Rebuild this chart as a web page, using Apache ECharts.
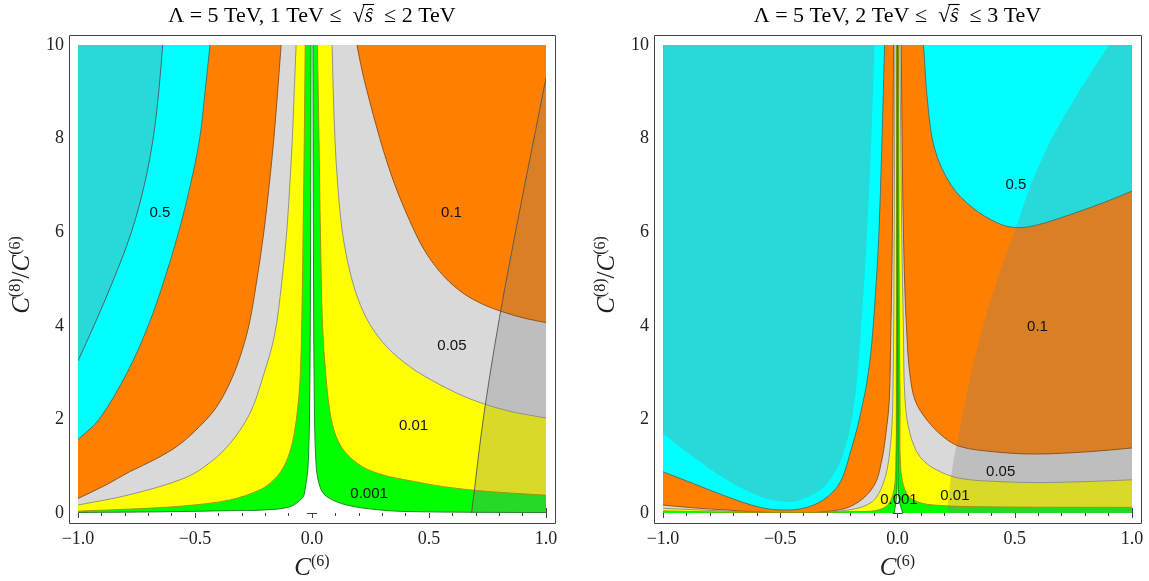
<!DOCTYPE html>
<html>
<head>
<meta charset="utf-8">
<script src="https://cdn.jsdelivr.net/npm/echarts@6.0.0/dist/echarts.min.js"></script>
<style>html,body{margin:0;padding:0;background:#fff;}#chart{width:1149px;height:581px;}</style>
</head>
<body>
<div id="chart"></div>
<script>
// ================= DATA =================
// Left panel: 1 TeV <= sqrt(s) <= 2 TeV   (points are [C6, C8/C6])
const L_overlayA = [[-0.638,10],[-0.655,9],[-0.679,8],[-0.717,7],[-0.772,6],[-0.847,5],[-0.932,4],[-1,3.25]];
const L_c05  = [[-0.436,10],[-0.457,9],[-0.48,8],[-0.52,7],[-0.57,6],[-0.63,5],[-0.70,4],[-0.79,3],[-0.91,2],[-1,1.57]];
const L_c01a = [[-0.132,10],[-0.147,9],[-0.163,8],[-0.183,7],[-0.206,6],[-0.235,5],[-0.27,4],[-0.31,3.3],[-0.353,2.76],[-0.41,2.25],[-0.48,1.85],[-0.57,1.45],[-0.669,1.15],[-0.78,0.88],[-0.88,0.6],[-1,0.31]];
const L_c01b = [[0.192,10],[0.212,9.5],[0.236,9],[0.29,8],[0.355,7],[0.44,6],[0.495,5.5],[0.565,5.05],[0.645,4.7],[0.73,4.46],[0.82,4.29],[0.91,4.16],[1,4.07]];
const L_c005a = [[-0.068,10],[-0.076,9],[-0.084,8],[-0.095,7],[-0.108,6],[-0.13,4.9],[-0.16,3.8],[-0.21,2.9],[-0.265,2.13],[-0.345,1.52],[-0.43,1.1],[-0.543,0.75],[-0.78,0.39],[-1,0.17]];
const L_c005b = [[0.086,10],[0.091,9],[0.098,8],[0.11,7],[0.13,6],[0.16,5.2],[0.195,4.6],[0.245,4.05],[0.32,3.55],[0.42,3.12],[0.54,2.76],[0.68,2.43],[0.84,2.18],[1,2.03]];
const L_c001a = [[-0.029,10],[-0.033,8],[-0.038,6],[-0.044,4],[-0.051,2.84],[-0.062,2.2],[-0.076,1.7],[-0.095,1.3],[-0.125,0.95],[-0.165,0.7],[-0.22,0.5],[-0.35,0.28],[-0.55,0.15],[-0.75,0.09],[-1,0.04]];
const L_c001b = [[0.023,10],[0.03,8],[0.036,6],[0.045,4],[0.06,2.9],[0.077,2.15],[0.102,1.65],[0.145,1.28],[0.215,0.99],[0.305,0.81],[0.419,0.69],[0.564,0.56],[0.75,0.46],[1,0.38]];
const L_spikeA = [[-0.004,10],[-0.006,6],[-0.009,2.84],[-0.016,1.06],[-0.03,0.49],[-0.04,0.33],[-0.094,0.135],[-0.208,0.064],[-0.35,0.05],[-0.65,0.025],[-1,0.01]];
const L_spikeB = [[0.004,10],[0.006,6],[0.009,2.84],[0.017,1.06],[0.034,0.56],[0.063,0.35],[0.148,0.17],[0.291,0.064],[0.419,0.03],[0.7,0.015],[1,0.01]];
const L_overlayB = [[1,9.3],[0.825,4.83],[0.738,2.22],[0.682,0]];
const L_labels = [['0.5',-0.65,6.41],['0.1',0.596,6.41],['0.05',0.598,3.57],['0.01',0.434,1.86],['0.001',0.244,0.41]];

// Right panel: 2 TeV <= sqrt(s) <= 3 TeV
const R_overlayA = [[-0.098,10],[-0.108,8.5],[-0.12,7],[-0.135,5.5],[-0.148,4.5],[-0.163,3.4],[-0.18,2.5],[-0.205,1.75],[-0.24,1.15],[-0.29,0.7],[-0.33,0.49],[-0.416,0.28],[-0.487,0.24],[-0.586,0.35],[-0.728,0.705],[-0.871,1.2],[-1,1.7]];
const R_c05a = [[-0.055,10],[-0.066,8],[-0.079,6],[-0.092,4.83],[-0.11,3.6],[-0.13,2.8],[-0.15,2.3],[-0.17,1.85],[-0.195,1.4],[-0.245,0.65],[-0.316,0.28],[-0.402,0.1],[-0.487,0.064],[-0.586,0.12],[-0.728,0.35],[-0.871,0.63],[-1,0.88]];
const R_c05b = [[0.111,10],[0.127,8.85],[0.158,7.79],[0.228,7.01],[0.321,6.52],[0.425,6.2],[0.5,6.1],[0.584,6.14],[0.739,6.38],[0.894,6.66],[1,6.88]];
const R_c01a = [[-0.017,10],[-0.022,6],[-0.028,4],[-0.035,2.41],[-0.046,1.84],[-0.067,1.13],[-0.103,0.56],[-0.188,0.17],[-0.302,0.03],[-0.444,0.006],[-0.6,0.02],[-0.728,0.064],[-0.87,0.11],[-1,0.17]];
const R_c01b = [[0.016,10],[0.022,7],[0.03,5],[0.04,3.8],[0.052,3.0],[0.075,2.41],[0.125,1.99],[0.195,1.63],[0.267,1.42],[0.409,1.31],[0.584,1.26],[0.817,1.31],[1,1.39]];
const R_c005a = [[-0.011,10],[-0.014,6],[-0.02,2.41],[-0.032,1.35],[-0.061,0.63],[-0.117,0.21],[-0.25,0.04],[-0.45,0.005],[-0.7,0.035],[-1,0.1]];
const R_c005b = [[0.01,10],[0.018,6],[0.025,4],[0.032,2.41],[0.053,1.7],[0.096,1.2],[0.167,0.92],[0.267,0.74],[0.437,0.67],[0.6,0.65],[0.8,0.67],[1,0.71]];
const R_c001a = [[-0.004,10],[-0.005,2],[-0.006,1.35],[-0.018,0.42],[-0.061,0.1],[-0.2,0.03],[-0.5,0.01],[-0.8,0.025],[-1,0.045]];
const R_c001b = [[0.004,10],[0.008,4],[0.011,2.41],[0.013,0.99],[0.032,0.49],[0.067,0.28],[0.153,0.17],[0.437,0.13],[1,0.12]];
const R_spikeA = [[-0.001,10],[-0.002,0.6],[-0.006,0.25],[-0.011,0.1],[-0.014,0]];
const R_spikeB = [[0.001,10],[0.003,0.6],[0.008,0.25],[0.016,0.1],[0.022,0]];
const R_overlayB = [[0.902,10],[0.773,9],[0.658,8],[0.568,7],[0.505,6.1],[0.415,4.83],[0.33,3.34],[0.29,2.41],[0.258,1.63],[0.228,0.78],[0.211,0]];
const R_labels = [['0.5',0.505,7.01],['0.1',0.597,3.98],['0.05',0.44,0.88],['0.01',0.245,0.36],['0.001',0.006,0.29]];

// axis ranges / titles
const xRange = [-1, 1];
const yRange = [0, 10];
const titleParts = [
  ['\u039B = 5 TeV, 1 TeV \u2264', '\u2264 2 TeV'],
  ['\u039B = 5 TeV, 2 TeV \u2264', '\u2264 3 TeV']
];

// ================= STYLE =================
const COL = {cyan:'#00FFFF', orange:'#FF8000', gray:'#D9D9D9', yellow:'#FFFF00', green:'#00FF00', white:'#FFFFFF', shade:'rgba(128,128,128,0.3)'};
const LN = {c05:'#3F6F6F', c01:'#8C4A12', c005:'#8A8A8A', c001:'#A08C00', spike:'#1B7A1B', edge:'#555555'};
const serif = '"Liberation Serif","Times New Roman",serif';
const sans = '"Liberation Sans",Arial,sans-serif';
const rev = a => a.slice().reverse();
const X0 = xRange[0], X1 = xRange[1], Y0 = yRange[0], Y1 = yRange[1];

const leftItems = [
  {kind:'fill', fill:COL.cyan,   parts:[{l:[[X0,Y0],[X1,Y0],[X1,Y1],[X0,Y1]]}]},
  {kind:'fill', fill:COL.orange, parts:[{c:L_c05},{l:[[X0,Y0],[X1,Y0],[X1,Y1]]}]},
  {kind:'fill', fill:COL.gray,   parts:[{c:L_c01a},{l:[[X0,Y0],[X1,Y0]]},{c:rev(L_c01b)}]},
  {kind:'fill', fill:COL.yellow, parts:[{c:L_c005a},{l:[[X0,Y0],[X1,Y0]]},{c:rev(L_c005b)}]},
  {kind:'fill', fill:COL.green,  parts:[{c:L_c001a},{l:[[X0,Y0],[X1,Y0]]},{c:rev(L_c001b)}]},
  {kind:'fill', fill:COL.white,  parts:[{c:L_spikeA},{l:[[X0,Y0],[X1,Y0]]},{c:rev(L_spikeB)}]},
  {kind:'fill', fill:COL.shade,  parts:[{l:[[X0,Y1]]},{c:L_overlayA}]},
  {kind:'fill', fill:COL.shade,  parts:[{c:L_overlayB},{l:[[X1,Y0]]}]},
  {kind:'line', stroke:LN.edge, pts:L_overlayA},
  {kind:'line', stroke:LN.c05, pts:L_c05},
  {kind:'line', stroke:LN.c01, pts:L_c01a},
  {kind:'line', stroke:LN.c01, pts:L_c01b},
  {kind:'line', stroke:LN.c005, pts:L_c005a},
  {kind:'line', stroke:LN.c005, pts:L_c005b},
  {kind:'line', stroke:LN.c001, pts:L_c001a},
  {kind:'line', stroke:LN.c001, pts:L_c001b},
  {kind:'line', stroke:LN.spike, pts:L_spikeA},
  {kind:'line', stroke:LN.spike, pts:L_spikeB},
  {kind:'line', stroke:LN.edge, pts:L_overlayB},
  ...L_labels.map(t => ({kind:'text', text:t[0], at:[t[1], t[2]]}))
];

const rightItems = [
  {kind:'fill', fill:COL.cyan,   parts:[{l:[[X0,Y0],[X1,Y0],[X1,Y1],[X0,Y1]]}]},
  {kind:'fill', fill:COL.orange, parts:[{c:R_c05a},{l:[[X0,Y0],[X1,Y0]]},{c:rev(R_c05b)}]},
  {kind:'fill', fill:COL.gray,   parts:[{c:R_c01a},{l:[[X0,Y0],[X1,Y0]]},{c:rev(R_c01b)}]},
  {kind:'fill', fill:COL.yellow, parts:[{c:R_c005a},{l:[[X0,Y0],[X1,Y0]]},{c:rev(R_c005b)}]},
  {kind:'fill', fill:COL.green,  parts:[{c:R_c001a},{l:[[X0,Y0],[X1,Y0]]},{c:rev(R_c001b)}]},
  {kind:'fill', fill:COL.white,  parts:[{c:R_spikeA},{c:rev(R_spikeB)}]},
  {kind:'fill', fill:COL.shade,  parts:[{l:[[X0,Y1]]},{c:R_overlayA}]},
  {kind:'fill', fill:COL.shade,  parts:[{c:R_overlayB},{l:[[X1,Y0],[X1,Y1]]}]},
  {kind:'line', stroke:LN.c05, pts:R_c05a},
  {kind:'line', stroke:LN.c05, pts:R_c05b},
  {kind:'line', stroke:LN.c01, pts:R_c01a},
  {kind:'line', stroke:LN.c01, pts:R_c01b},
  {kind:'line', stroke:LN.c005, pts:R_c005a},
  {kind:'line', stroke:LN.c005, pts:R_c005b},
  {kind:'line', stroke:LN.c001, pts:R_c001a},
  {kind:'line', stroke:LN.c001, pts:R_c001b},
  {kind:'line', stroke:LN.spike, pts:R_spikeA},
  {kind:'line', stroke:LN.spike, pts:R_spikeB},
  ...R_labels.map(t => ({kind:'text', text:t[0], at:[t[1], t[2]]}))
];

// ================= DRAWING HELPERS =================
const fx = v => v.toFixed(2);
function curveD(P, first) {
  const n = P.length, S = 0.34;
  let d = (first ? 'M' : ' L') + fx(P[0][0]) + ' ' + fx(P[0][1]);
  const tan = i => {
    const a = P[Math.max(i - 1, 0)], b = P[Math.min(i + 1, n - 1)];
    const dx = b[0] - a[0], dy = b[1] - a[1], l = Math.hypot(dx, dy) || 1;
    return [dx / l, dy / l];
  };
  for (let i = 0; i < n - 1; i++) {
    const a = P[i], b = P[i + 1], len = Math.hypot(b[0] - a[0], b[1] - a[1]);
    const ta = tan(i), tb = tan(i + 1);
    d += ' C' + fx(a[0] + ta[0] * len * S) + ' ' + fx(a[1] + ta[1] * len * S) + ' ' +
         fx(b[0] - tb[0] * len * S) + ' ' + fx(b[1] - tb[1] * len * S) + ' ' + fx(b[0]) + ' ' + fx(b[1]);
  }
  return d;
}
function makeRender(items) {
  return function (params, api) {
    const it = items[params.dataIndex];
    const P = pts => pts.map(p => api.coord(p));
    if (it.kind === 'fill') {
      let d = '', first = true;
      it.parts.forEach(part => {
        if (part.c) { d += curveD(P(part.c), first); first = false; }
        else { P(part.l).forEach(q => { d += (first ? 'M' : ' L') + fx(q[0]) + ' ' + fx(q[1]); first = false; }); }
      });
      d += ' Z';
      return {type:'path', shape:{pathData:d}, style:{fill:it.fill, stroke:'none'}, silent:true};
    }
    if (it.kind === 'line') {
      return {type:'path', shape:{pathData:curveD(P(it.pts), true)}, style:{fill:'none', stroke:it.stroke, lineWidth:0.9}, silent:true};
    }
    const q = api.coord(it.at);
    return {type:'text', x:q[0], y:q[1], silent:true,
      style:{text:it.text, font:'15px ' + sans, fill:'#111', align:'center', verticalAlign:'middle', textAlign:'center', textVerticalAlign:'middle'}};
  };
}

// ================= LAYOUT =================
const GRIDS = [
  {left:78, top:45, width:468, height:468},
  {left:663, top:45, width:469, height:468}
];
const PADX = 9, PADY = 10;

function xAxis(g, pos, showLabel) {
  return {
    type:'value', gridIndex:g, position:pos, offset:PADY, min:X0, max:X1, interval:0.5,
    axisLine:{show:false}, splitLine:{show:false}, minorSplitLine:{show:false},
    axisTick:{show:true, inside:true, length:5, lineStyle:{color:'#444', width:1}},
    minorTick:{show:true, splitNumber:5, length:3, lineStyle:{color:'#444', width:1}},
    axisLabel:{show:showLabel, margin:7, fontFamily:serif, fontSize:18, color:'#222',
      formatter: v => (v < 0 ? '\u2212' : '') + Math.abs(v).toFixed(1)},
    axisPointer:{show:false}
  };
}
function yAxis(g, pos, showLabel) {
  return {
    type:'value', gridIndex:g, position:pos, offset:PADX, min:Y0, max:Y1, interval:2,
    axisLine:{show:false}, splitLine:{show:false}, minorSplitLine:{show:false},
    axisTick:{show:true, inside:true, length:5, lineStyle:{color:'#444', width:1}},
    minorTick:{show:true, splitNumber:4, length:3, lineStyle:{color:'#444', width:1}},
    axisLabel:{show:showLabel, margin:5, fontFamily:serif, fontSize:18, color:'#222',
      formatter: v => String(v)},
    axisPointer:{show:false}
  };
}

// text measuring for the titles
const mctx = document.createElement('canvas').getContext('2d');
function tw(t, size, italic) { mctx.font = (italic ? 'italic ' : '') + size + 'px ' + serif; return mctx.measureText(t).width; }

function titleEls(cx, cy, pre, post) {
  const fs = 22;
  const parts = [
    {t: pre + '  ', it:false},
    {t: '\u221A', it:false},
    {t: '\u015D', it:true},
    {t: '  ' + post, it:false}
  ];
  parts.forEach(p => p.w = tw(p.t, fs, p.it));
  const W = parts.reduce((s, p) => s + p.w, 0);
  let x = cx - W / 2;
  const els = [];
  parts.forEach(p => {
    p.x = x;
    els.push({type:'text', x:x, y:cy, silent:true,
      style:{text:p.t, font:(p.it ? 'italic ' : '') + fs + 'px ' + serif, fill:'#000',
        align:'left', verticalAlign:'middle', textAlign:'left', textVerticalAlign:'middle'}});
    x += p.w;
  });
  const vx1 = parts[1].x + parts[1].w * 0.85, vx2 = parts[2].x + parts[2].w + 1;
  els.push({type:'line', silent:true, shape:{x1:vx1, y1:cy - 11.5, x2:vx2, y2:cy - 11.5}, style:{stroke:'#000', lineWidth:1.1}});
  return els;
}

const richAxis = {
  c:{fontFamily:serif, fontStyle:'italic', fontSize:25, lineHeight:28, fill:'#222', color:'#222'},
  s:{fontFamily:serif, fontSize:16, lineHeight:18, verticalAlign:'top', fill:'#222', color:'#222'},
  n:{fontFamily:serif, fontSize:25, lineHeight:28, fill:'#222', color:'#222'}
};

const graphics = [];
GRIDS.forEach((g, i) => {
  graphics.push({type:'rect', silent:true,
    shape:{x:g.left - PADX + 0.5, y:g.top - PADY + 0.5, width:g.width + 2 * PADX, height:g.height + 2 * PADY},
    style:{fill:'none', stroke:'#444', lineWidth:1}});
  const cx = g.left + g.width / 2;
  titleEls(cx, 16, titleParts[i][0], titleParts[i][1]).forEach(e => graphics.push(e));
  graphics.push({type:'text', x:cx, y:568, silent:true,
    style:{text:'{c|C}{s|(6)}', rich:richAxis, align:'center', verticalAlign:'middle', textAlign:'center', textVerticalAlign:'middle'}});
  graphics.push({type:'text', x:g.left - 56, y:g.top + g.height / 2 - 4, rotation:Math.PI / 2, silent:true,
    style:{text:'{c|C}{s|(8)}{n|/}{c|C}{s|(6)}', rich:richAxis, align:'center', verticalAlign:'middle', textAlign:'center', textVerticalAlign:'middle'}});
});

const option = {
  animation:false,
  backgroundColor:'#ffffff',
  grid: GRIDS.map(g => Object.assign({containLabel:false, outerBoundsMode:'none'}, g)),
  xAxis:[xAxis(0,'bottom',true), xAxis(0,'top',false), xAxis(1,'bottom',true), xAxis(1,'top',false)],
  yAxis:[yAxis(0,'left',true), yAxis(0,'right',false), yAxis(1,'left',true), yAxis(1,'right',false)],
  series:[
    {type:'custom', coordinateSystem:'cartesian2d', xAxisIndex:0, yAxisIndex:0, clip:true, silent:true,
      data:leftItems.map(() => [0, 0]), renderItem:makeRender(leftItems)},
    {type:'custom', coordinateSystem:'cartesian2d', xAxisIndex:2, yAxisIndex:2, clip:true, silent:true,
      data:rightItems.map(() => [0, 0]), renderItem:makeRender(rightItems)}
  ],
  graphic:{elements:graphics}
};

const chart = echarts.init(document.getElementById('chart'), null, {renderer:'canvas'});
chart.setOption(option);
</script>
</body>
</html>
